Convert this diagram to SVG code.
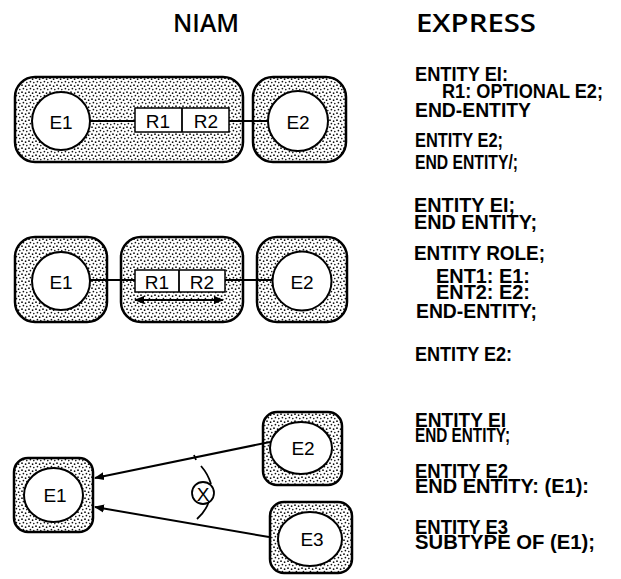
<svg xmlns="http://www.w3.org/2000/svg" width="621" height="579" viewBox="0 0 621 579">
<defs>
<pattern id="dots" width="7" height="7" patternUnits="userSpaceOnUse">
<rect width="7" height="7" fill="#fff"/>
<circle cx="1" cy="1.2" r="0.9" fill="#111"/>
<circle cx="4.6" cy="2.2" r="0.85" fill="#111"/>
<circle cx="2.4" cy="4.6" r="0.85" fill="#111"/>
<circle cx="5.8" cy="5.6" r="0.8" fill="#111"/>
</pattern>
<marker id="ah" viewBox="0 0 10 10" refX="9" refY="5" markerWidth="10" markerHeight="10" markerUnits="userSpaceOnUse" orient="auto-start-reverse">
<path d="M0,1 L10,5 L0,9 z" fill="#000"/>
</marker>
</defs>
<style>
.box{fill:url(#dots);stroke:#000;stroke-width:2.5}
.ent{fill:#fff;stroke:#000;stroke-width:2}
.role{fill:#fff;stroke:#000;stroke-width:1.5}
.lbl{font-family:"Liberation Sans",Arial,sans-serif;font-size:19px;text-anchor:middle;dominant-baseline:central;fill:#000}
.hdr{font-family:"Open Sans","Noto Sans",sans-serif;font-weight:600;font-size:26px;fill:#000}
.code{font-family:"Liberation Sans",Arial,sans-serif;font-weight:bold;font-size:20px;fill:#000}
.ln{stroke:#000;stroke-width:1.8;fill:none}
.arr{stroke:#000;stroke-width:2;fill:none;marker-end:url(#ah)}
</style>

<text class="hdr" x="173" y="32" textLength="66" lengthAdjust="spacingAndGlyphs">NIAM</text>
<text class="hdr" x="416" y="32" textLength="120" lengthAdjust="spacingAndGlyphs">EXPRESS</text>

<!-- Row 1 -->
<g id="r1-e1-box">
<rect class="box" x="15" y="77" width="228" height="85" rx="20"/>
</g>
<g id="r1-e1">
<circle class="ent" cx="61" cy="121" r="29"/>
<text class="lbl" x="61" y="122">E1</text>
</g>
<g id="r1-role">
<rect class="role" x="135" y="108" width="94" height="24"/>
<line class="ln" x1="182" y1="108" x2="182" y2="132" stroke-width="1.5"/>
<text class="lbl" x="158" y="121">R1</text>
<text class="lbl" x="206" y="121">R2</text>
</g>
<g id="r1-e2">
<rect class="box" x="253" y="77" width="93" height="85" rx="20"/>
<circle class="ent" cx="298" cy="121" r="30"/>
<text class="lbl" x="298" y="122">E2</text>
</g>

<!-- Row 2 -->
<g id="r2-e1">
<rect class="box" x="15" y="237" width="92" height="85" rx="20"/>
<circle class="ent" cx="61" cy="281" r="29"/>
<text class="lbl" x="61" y="282">E1</text>
</g>
<g id="r2-role">
<rect class="box" x="121" y="237" width="122" height="85" rx="20"/>
<rect class="role" x="135" y="270" width="90" height="22"/>
<line class="ln" x1="179" y1="270" x2="179" y2="292" stroke-width="1.5"/>
<text class="lbl" x="157" y="282">R1</text>
<text class="lbl" x="202" y="282">R2</text>
</g>
<g id="r2-e2">
<rect class="box" x="257" y="237" width="90" height="85" rx="20"/>
<circle class="ent" cx="302" cy="281" r="29.5"/>
<text class="lbl" x="302" y="282">E2</text>
</g>

<!-- Row 3 -->
<g id="r3-e1">
<rect class="box" x="14" y="458" width="79" height="74" rx="14"/>
<ellipse class="ent" cx="53.5" cy="495" rx="29.5" ry="27"/>
<text class="lbl" x="55" y="495">E1</text>
</g>
<g id="r3-e2">
<rect class="box" x="263" y="412" width="79" height="73" rx="14"/>
<ellipse class="ent" cx="301" cy="448" rx="31" ry="26"/>
<text class="lbl" x="303" y="448">E2</text>
</g>
<g id="r3-e3">
<rect class="box" x="270" y="502" width="82" height="71" rx="14"/>
<ellipse class="ent" cx="310" cy="539" rx="32" ry="27"/>
<text class="lbl" x="312" y="539">E3</text>
</g>
<g id="r3-exclusion">
<circle cx="203" cy="493" r="11" fill="#fff" stroke="#000" stroke-width="1.8"/>
<text class="lbl" x="203" y="494" font-size="17">X</text>
</g>

<g id="connectors">
<line class="ln" x1="90" y1="121" x2="135" y2="121"/>
<line class="ln" x1="229" y1="121" x2="268" y2="121"/>
<line class="ln" x1="90" y1="280" x2="135" y2="280"/>
<line class="ln" x1="225" y1="280" x2="273" y2="280"/>
<line x1="135" y1="300" x2="223" y2="300" stroke="#000" stroke-width="2.2" marker-start="url(#ah)" marker-end="url(#ah)"/>
<line class="arr" x1="270" y1="442" x2="95" y2="478"/>
<line class="arr" x1="269" y1="537" x2="95" y2="507"/>
<path class="ln" d="M194,455 L196,460 M201,466 Q208,474 211,484 M209,501 Q206,511 197,519"/>
</g>

<!-- EXPRESS text -->
<g id="express">
<text class="code" x="415" y="81" textLength="93" lengthAdjust="spacingAndGlyphs">ENTITY  EI:</text>
<text class="code" x="442" y="98" textLength="161" lengthAdjust="spacingAndGlyphs">R1: OPTIONAL E2;</text>
<text class="code" x="415" y="117" textLength="116" lengthAdjust="spacingAndGlyphs">END-ENTITY</text>
<text class="code" x="415" y="147" textLength="88" lengthAdjust="spacingAndGlyphs">ENTITY  E2;</text>
<text class="code" x="415" y="169" textLength="103" lengthAdjust="spacingAndGlyphs">END ENTITY/;</text>

<text class="code" x="414" y="212" textLength="101" lengthAdjust="spacingAndGlyphs">ENTITY  EI;</text>
<text class="code" x="414" y="229" textLength="123" lengthAdjust="spacingAndGlyphs">END  ENTITY;</text>
<text class="code" x="414" y="260" textLength="131" lengthAdjust="spacingAndGlyphs">ENTITY   ROLE;</text>
<text class="code" x="436" y="283" textLength="94" lengthAdjust="spacingAndGlyphs">ENT1:  E1:</text>
<text class="code" x="436" y="299" textLength="94" lengthAdjust="spacingAndGlyphs">ENT2:  E2:</text>
<text class="code" x="416" y="318" textLength="121" lengthAdjust="spacingAndGlyphs">END-ENTITY;</text>

<text class="code" x="415" y="361" textLength="97" lengthAdjust="spacingAndGlyphs">ENTITY  E2:</text>

<text class="code" x="415" y="427" textLength="91" lengthAdjust="spacingAndGlyphs">ENTITY EI</text>
<text class="code" x="415" y="442" textLength="95" lengthAdjust="spacingAndGlyphs">END  ENTITY;</text>
<text class="code" x="415" y="478" textLength="93" lengthAdjust="spacingAndGlyphs">ENTITY  E2</text>
<text class="code" x="415" y="493" textLength="174" lengthAdjust="spacingAndGlyphs">END  ENTITY:  (E1):</text>
<text class="code" x="415" y="534" textLength="93" lengthAdjust="spacingAndGlyphs">ENTITY  E3</text>
<text class="code" x="415" y="549" textLength="180" lengthAdjust="spacingAndGlyphs">SUBTYPE  OF   (E1);</text>
</g>
</svg>
